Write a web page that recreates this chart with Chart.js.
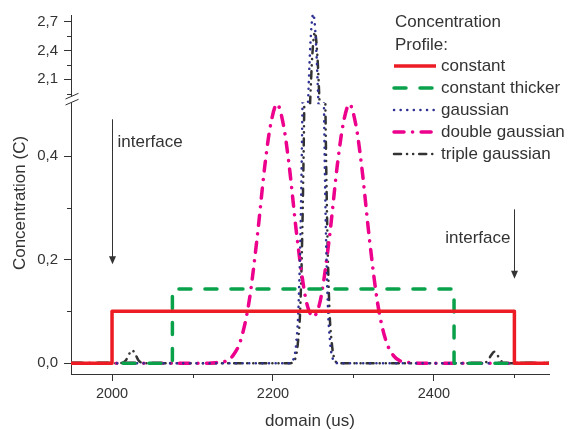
<!DOCTYPE html>
<html>
<head>
<meta charset="utf-8">
<script src="https://cdn.jsdelivr.net/npm/chart.js@4.4.1/dist/chart.umd.min.js"></script>
<style>
  body { margin: 0; background: #fff; }
  canvas { display: block; }
</style>
</head>
<body>
<canvas id="profileChart" width="572" height="430"></canvas>
<script>
// values
const constX = [1949, 2000, 2000, 2500, 2500, 2543];
const constY = [0, 0, 0.1, 0.1, 0, 0];

const thickX = [1949, 2075, 2075, 2425, 2425, 2543];
const thickY = [0, 0, 0.143, 0.143, 0, 0];

const gaussX = [1949, 2220, 2226, 2229, 2232, 2235, 2238, 2241, 2244, 2247, 2250,
                2253, 2256, 2259, 2262, 2265, 2268, 2271, 2274, 2280, 2543];
const gaussY = [0, 0, 0.01, 0.04, 0.12, 0.32, 0.69, 1.27, 1.96, 2.55, 2.78,
                2.55, 1.96, 1.27, 0.69, 0.32, 0.12, 0.04, 0.01, 0, 0];

const doubleX = [1949, 2120, 2130, 2140, 2150, 2160, 2170, 2180, 2190, 2197, 2205, 2213,
                 2220, 2230, 2240, 2245, 2250, 2255, 2260, 2270, 2280, 2287, 2295, 2303,
                 2310, 2320, 2330, 2340, 2350, 2360, 2370, 2380, 2543];
const doubleY = [0, 0, 0.001, 0.003, 0.014, 0.045, 0.116, 0.238, 0.383, 0.46, 0.5, 0.46,
                 0.383, 0.241, 0.13, 0.1, 0.09, 0.1, 0.13, 0.241, 0.383, 0.46, 0.5, 0.46,
                 0.383, 0.238, 0.116, 0.045, 0.014, 0.003, 0.001, 0, 0];

const tripleX = [1949, 2010, 2017, 2021, 2025, 2029, 2033, 2040,
                 2222, 2228, 2231, 2234, 2237, 2240, 2243, 2246, 2249, 2252,
                 2255, 2258, 2261, 2264, 2267, 2270, 2273, 2276, 2282,
                 2462, 2467, 2471, 2475, 2479, 2483, 2490, 2543];
const tripleY = [0, 0, 0.005, 0.017, 0.025, 0.017, 0.005, 0,
                 0, 0.01, 0.04, 0.11, 0.3, 0.65, 1.19, 1.83, 2.37, 2.59,
                 2.37, 1.83, 1.19, 0.65, 0.3, 0.11, 0.04, 0.01, 0,
                 0, 0.005, 0.015, 0.022, 0.015, 0.005, 0, 0];

const xTicks = [2000, 2100, 2200, 2300, 2400, 2500];
const xLabels = [2000, 2200, 2400];
const yLowTicks = [0, 0.1, 0.2, 0.3, 0.4];
const yLowLabels = [0, 0.2, 0.4];
const yTopTicks = [1.95, 2.1, 2.25, 2.4, 2.55, 2.7];
const yTopLabels = [2.1, 2.4, 2.7];

const FONT = '"Liberation Sans", Arial, sans-serif';
const INK = '#333333';

Chart.defaults.font.family = FONT;
Chart.defaults.font.size = 14;
Chart.defaults.color = INK;

const series = [
    { label: "constant", xs: constX, ys: constY, color: "#ed1c24", width: 3.5, dash: [], cap: "butt", smooth: false },
    { label: "constant thicker", xs: thickX, ys: thickY, color: "#0aa14b", width: 3.5, dash: [12, 14], cap: "round", smooth: false },
    { label: "gaussian", xs: gaussX, ys: gaussY, color: "#2e3192", width: 2.5, dash: [0.1, 6.5], cap: "round", smooth: true },
    { label: "double gaussian", xs: doubleX, ys: doubleY, color: "#ec008c", width: 3.5, dash: [10, 8.5, 0.1, 8.5], cap: "round", smooth: true },
    { label: "triple gaussian", xs: tripleX, ys: tripleY, color: "#333333", width: 2.5, dash: [7, 6, 0.1, 6, 0.1, 6], cap: "round", smooth: true },
];

function makeSet(s, axis) {
    return {
        label: s.label,
        data: s.xs.map((x, i) => ({ x: x, y: s.ys[i] })),
        yAxisID: axis,
        borderColor: s.color,
        borderWidth: s.width,
        borderDash: s.dash,
        borderCapStyle: s.cap,
        borderJoinStyle: "round",
        tension: s.smooth ? 0.4 : 0,
        cubicInterpolationMode: s.smooth ? "monotone" : "default",
        capBezierPoints: false,
        pointRadius: 0,
        fill: false,
        clip: false,
        legendHide: axis === "yTop",
    };
}

// lower part of the broken axis first, then the copies for the part above the break
const datasets = series.map(s => makeSet(s, "y")).concat(series.map(s => makeSet(s, "yTop")));

const fmt = v => v.toFixed(1).replace(".", ",");
const fixTicks = list => scale => { scale.ticks = list.map(v => ({ value: v })); };
const majorColor = labels => c => labels.includes(c.tick.value) ? INK : "rgba(0,0,0,0)";

const decor = {
    id: "decor",
    beforeDatasetDraw(chart, args) {
        const { xScale, yScale } = args.meta;
        const ctx = chart.ctx;
        const top = yScale.id === "yTop" ? 0 : yScale.top - 2;
        const bottom = yScale.id === "yTop" ? yScale.bottom : yScale.bottom + 2;
        ctx.save();
        ctx.beginPath();
        ctx.rect(xScale.left, top, xScale.right - xScale.left, bottom - top);
        ctx.clip();
    },
    afterDatasetDraw(chart) {
        chart.ctx.restore();
    },
    afterDraw(chart) {
        const ctx = chart.ctx;
        const x = chart.scales.x, y = chart.scales.y, yTop = chart.scales.yTop;
        ctx.save();
        ctx.strokeStyle = INK;
        ctx.fillStyle = INK;
        ctx.lineWidth = 1;

        // minor ticks
        ctx.beginPath();
        xTicks.filter(v => !xLabels.includes(v)).forEach(v => {
            const px = Math.round(x.getPixelForValue(v)) + 0.5;
            ctx.moveTo(px, x.top); ctx.lineTo(px, x.top + 4);
        });
        [[y, yLowTicks, yLowLabels], [yTop, yTopTicks, yTopLabels]].forEach(([s, t, l]) => {
            t.filter(v => !l.includes(v)).forEach(v => {
                const py = Math.round(s.getPixelForValue(v)) + 0.5;
                ctx.moveTo(s.right, py); ctx.lineTo(s.right - 4, py);
            });
        });
        ctx.stroke();

        // axis break
        const ax = y.right + 0.5;
        ctx.fillStyle = "#fff";
        ctx.beginPath();
        ctx.moveTo(ax - 6, 99); ctx.lineTo(ax + 7, 93.3); ctx.lineTo(ax + 7, 99.3); ctx.lineTo(ax - 6, 105);
        ctx.closePath();
        ctx.fill();
        ctx.beginPath();
        ctx.moveTo(ax - 6, 99); ctx.lineTo(ax + 7, 93.3);
        ctx.moveTo(ax - 6, 105); ctx.lineTo(ax + 7, 99.3);
        ctx.stroke();
        ctx.fillStyle = INK;

        // axis titles
        ctx.font = "17px " + FONT;
        ctx.textAlign = "center";
        ctx.textBaseline = "middle";
        ctx.fillText("domain (us)", (x.left + x.right) / 2, 421);
        ctx.save();
        ctx.translate(20, 203);
        ctx.rotate(-Math.PI / 2);
        ctx.fillText("Concentration (C)", 0, 0);
        ctx.restore();

        // interface arrows
        const arrow = (xv, y0, y1) => {
            const px = Math.round(x.getPixelForValue(xv)) + 0.5;
            const p0 = y.getPixelForValue(y0), p1 = y.getPixelForValue(y1);
            ctx.beginPath();
            ctx.moveTo(px, p0); ctx.lineTo(px, p1 - 6);
            ctx.stroke();
            ctx.beginPath();
            ctx.moveTo(px - 3.5, p1 - 8); ctx.lineTo(px + 3.5, p1 - 8); ctx.lineTo(px, p1);
            ctx.closePath();
            ctx.fill();
            return px;
        };
        const lx = arrow(2000, 0.471, 0.191);
        const rx = arrow(2500, 0.297, 0.163);
        ctx.textAlign = "left";
        ctx.fillText("interface", lx + 5, y.getPixelForValue(0.427));
        ctx.textAlign = "right";
        ctx.fillText("interface", rx - 4, y.getPixelForValue(0.241));

        // legend
        ctx.textAlign = "left";
        ctx.fillText("Concentration", 395, 22);
        ctx.fillText("Profile:", 395, 45);
        chart.data.datasets.filter(d => !d.legendHide).forEach((d, i) => {
            const ly = 66 + i * 22;
            ctx.save();
            ctx.strokeStyle = d.borderColor;
            ctx.lineWidth = d.borderWidth;
            ctx.lineCap = d.borderCapStyle;
            ctx.setLineDash(d.borderDash);
            ctx.beginPath();
            ctx.moveTo(394, ly); ctx.lineTo(436, ly);
            ctx.stroke();
            ctx.restore();
            ctx.fillText(d.label, 441, ly);
        });
        ctx.restore();
    },
};

new Chart(document.getElementById("profileChart"), {
    type: "line",
    data: { datasets: datasets },
    options: {
        responsive: false,
        animation: false,
        events: [],
        layout: { padding: { top: 12, right: 23, bottom: 0, left: 0 } },
        plugins: { legend: { display: false }, tooltip: { enabled: false } },
        scales: {
            x: {
                type: "linear",
                min: 1949,
                max: 2543,
                afterBuildTicks: fixTicks(xTicks),
                afterFit: s => { s.height = 56; },
                grid: { drawOnChartArea: false, tickLength: 7, tickColor: majorColor(xLabels) },
                border: { color: INK, width: 1 },
                ticks: { padding: 4, autoSkip: false, maxRotation: 0, font: { size: 14.5 }, callback: v => xLabels.includes(v) ? String(v) : "" },
            },
            y: {
                type: "linear",
                position: "left",
                stack: "conc",
                stackWeight: 272,
                weight: 0,
                min: -0.021,
                max: 0.5,
                afterBuildTicks: fixTicks(yLowTicks),
                afterFit: s => { s.width = 71; },
                grid: { drawOnChartArea: false, tickLength: 7, tickColor: majorColor(yLowLabels) },
                border: { color: INK, width: 1 },
                ticks: { padding: 6, autoSkip: false, font: { size: 15 }, callback: v => yLowLabels.includes(v) ? fmt(v) : "" },
            },
            yTop: {
                type: "linear",
                position: "left",
                stack: "conc",
                stackWeight: 90,
                weight: 1,
                min: 1.84,
                max: 2.77,
                afterBuildTicks: fixTicks(yTopTicks),
                afterFit: s => { s.width = 71; },
                grid: { drawOnChartArea: false, tickLength: 7, tickColor: majorColor(yTopLabels) },
                border: { color: INK, width: 1 },
                ticks: { padding: 6, autoSkip: false, font: { size: 15 }, callback: v => yTopLabels.includes(v) ? fmt(v) : "" },
            },
        },
    },
    plugins: [decor],
});
</script>
</body>
</html>
